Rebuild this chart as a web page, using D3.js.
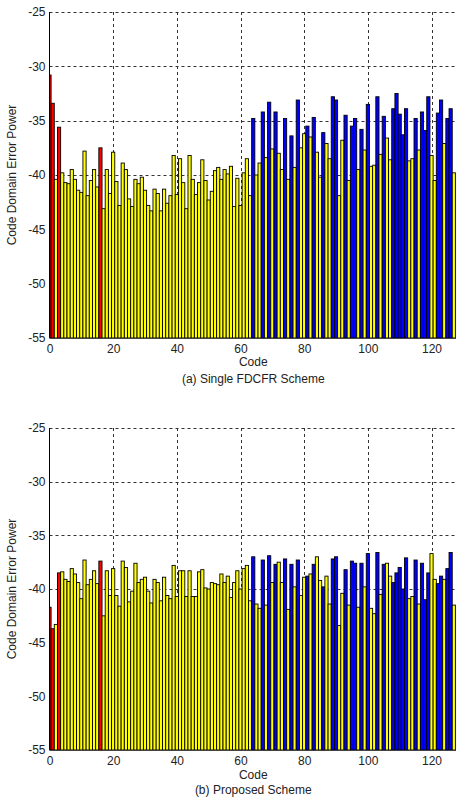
<!DOCTYPE html>
<html><head><meta charset="utf-8">
<script src="https://cdn.jsdelivr.net/npm/d3@7/dist/d3.min.js"></script>
<style>body{margin:0;background:#fff}svg{display:block}text{font-family:"Liberation Sans",Arial,sans-serif;fill:#222}</style>
</head><body>
<script>
const codes = d3.range(128);
const redCodes = [0, 1, 3, 16];
const blueCodes = [64,67,69,71,74,76,78,81,83,86,89,90,93,95,96,98,100,103,105,108,109,110,111,112,115,117,118,119,122,123,125,126];
const singleFDCFR = [
-30.8,-33.4,-40.4,-35.6,-39.8,-40.7,-40.8,-39.5,-40.4,-41.4,-41.6,-37.8,-41.9,-40.5,-39.5,-41.1,
-37.5,-43.1,-39.5,-41.7,-37.9,-40.6,-42.8,-38.9,-39.5,-42.2,-42.9,-40.4,-40.8,-40.2,-41.4,-42.8,
-43.3,-41.3,-41.7,-43.3,-41.3,-42.6,-41.9,-38.2,-41.8,-38.5,-40.7,-43.1,-38.2,-40.4,-41.8,-40.7,
-38.6,-40.5,-42.3,-41.5,-39.6,-39.3,-40.4,-39.5,-39.9,-39.2,-42.9,-40.3,-42.8,-39.8,-38.5,-41.9,
-34.8,-40.0,-38.9,-34.2,-38.4,-33.3,-37.6,-34.2,-38.0,-39.5,-34.8,-40.4,-36.4,-39.3,-33.1,-37.5,
-36.2,-35.5,-36.5,-34.7,-37.9,-40.2,-36.1,-37.1,-38.5,-32.8,-33.1,-41.9,-36.8,-34.5,-40.5,-35.5,
-34.8,-39.5,-35.8,-37.7,-33.5,-39.2,-39.1,-32.8,-38.1,-34.6,-36.6,-38.6,-33.9,-32.5,-34.4,-36.3,
-33.9,-38.7,-38.5,-34.8,-37.7,-34.2,-35.9,-32.8,-38.2,-40.5,-34.3,-33.1,-37.1,-34.8,-33.9,-39.8];
const proposed = [
-41.7,-43.7,-43.3,-38.5,-38.4,-39.1,-39.3,-38.1,-38.6,-39.4,-40.9,-37.3,-39.6,-39.1,-38.3,-39.5,
-37.4,-42.5,-38.3,-40.6,-38.1,-40.6,-41.6,-37.4,-38.0,-41.2,-40.2,-37.6,-39.4,-39.1,-38.9,-40.2,
-41.3,-39.1,-39.4,-41.1,-38.9,-40.6,-40.9,-37.8,-40.7,-38.3,-38.3,-40.7,-38.3,-40.7,-40.7,-38.4,
-38.2,-39.9,-40.0,-39.4,-39.5,-39.6,-38.6,-39.4,-38.8,-40.8,-39.4,-38.3,-40.0,-38.1,-37.8,-41.1,
-37.0,-41.4,-41.8,-37.3,-41.5,-36.9,-39.4,-37.7,-37.5,-39.4,-37.2,-41.9,-37.7,-39.8,-37.3,-40.6,
-38.9,-38.8,-38.6,-37.7,-37.0,-39.2,-39.8,-38.8,-41.4,-37.2,-37.0,-43.4,-40.4,-38.2,-41.5,-37.4,
-37.6,-41.7,-37.6,-39.8,-36.7,-41.8,-42.3,-36.6,-40.5,-37.7,-37.6,-38.8,-39.4,-38.5,-38.0,-40.0,
-37.1,-40.9,-40.7,-37.3,-41.4,-37.6,-41.0,-38.5,-36.7,-39.1,-39.5,-38.8,-39.1,-38.1,-36.6,-41.5];
const yTicks = [-55,-50,-45,-40,-35,-30,-25];
const xTicks = [0,20,40,60,80,100,120];
const yLabel = "Code Domain Error Power";
const xLabel = "Code";
const captions = ["(a) Single FDCFR Scheme", "(b) Proposed Scheme"];

const W = 456, H = 797;
const svg = d3.select("body").append("svg").attr("width", W).attr("height", H);

const panels = [
  {data: singleFDCFR, top: 12, bottom: 338, cap: captions[0], tickY: 353, labY: 366, capY: 383},
  {data: proposed, top: 428, bottom: 750, cap: captions[1], tickY: 765, labY: 779, capY: 794}
];
const colorOf = c => redCodes.includes(c) ? "#ff0000" : (blueCodes.includes(c) ? "#0000ff" : "#ffff00");

panels.forEach((p, k) => {
  const x = d3.scaleLinear().domain([0, 128]).range([49.5, 457]);
  const y = d3.scaleLinear().domain([-55, -25]).range([p.bottom, p.top]);
  const g = svg.append("g");
  const cid = "clip" + k;
  g.append("clipPath").attr("id", cid).append("rect")
    .attr("x", x(0)).attr("y", p.top).attr("width", x(128) - x(0)).attr("height", p.bottom - p.top);

  // grid
  const grid = g.append("g").attr("stroke", "#333").attr("stroke-dasharray", "3,3").attr("stroke-width", 1);
  yTicks.filter(t => t > -55).forEach(t => grid.append("line")
    .attr("x1", x(0)).attr("x2", x(128)).attr("y1", Math.round(y(t)) + 0.5).attr("y2", Math.round(y(t)) + 0.5));
  xTicks.filter(t => t > 0).forEach(t => grid.append("line")
    .attr("y1", p.top).attr("y2", p.bottom).attr("x1", Math.round(x(t)) + 0.5).attr("x2", Math.round(x(t)) + 0.5));

  // bars
  g.append("g").attr("clip-path", `url(#${cid})`).selectAll("rect").data(codes).join("rect")
    .attr("x", c => x(c - 0.5)).attr("width", x(1) - x(0))
    .attr("y", c => y(p.data[c])).attr("height", c => y(-55) - y(p.data[c]))
    .attr("fill", c => colorOf(c)).attr("stroke", "#000").attr("stroke-width", 0.9);

  // axes lines
  g.append("line").attr("x1", x(0)).attr("x2", x(128)).attr("y1", p.bottom + 0.5).attr("y2", p.bottom + 0.5).attr("stroke", "#444");
  g.append("line").attr("x1", x(0)).attr("x2", x(0)).attr("y1", p.top).attr("y2", p.bottom).attr("stroke", "#000");

  // y tick labels
  const yAxis = d3.axisLeft(y).tickValues(yTicks).tickSize(0).tickPadding(4).tickFormat(d => d);
  const ya = g.append("g").attr("transform", `translate(${x(0)},0)`).call(yAxis);
  ya.select(".domain").remove();
  ya.selectAll("text").style("font-size", "12px").attr("fill", "#222").style("font-family", "Liberation Sans, Arial, sans-serif");

  // x tick labels
  const xAxis = d3.axisBottom(x).tickValues(xTicks).tickSize(0).tickPadding(0).tickFormat(d => d);
  const xa = g.append("g").attr("transform", `translate(0,${p.tickY - 11})`).call(xAxis);
  xa.select(".domain").remove();
  xa.selectAll("text").attr("dy", 0).attr("y", 11).style("font-size", "12px").attr("fill", "#222").style("font-family", "Liberation Sans, Arial, sans-serif");

  // labels
  const cx = (x(0) + x(128)) / 2;
  g.append("text").attr("x", cx).attr("y", p.labY).attr("text-anchor", "middle").style("font-size", "12px").text(xLabel);
  g.append("text").attr("x", cx).attr("y", p.capY).attr("text-anchor", "middle").style("font-size", "12px").text(p.cap);
  g.append("text").attr("transform", `translate(16,${(p.top + p.bottom) / 2}) rotate(-90)`)
    .attr("text-anchor", "middle").style("font-size", "12px").text(yLabel);
});
</script>
</body></html>
